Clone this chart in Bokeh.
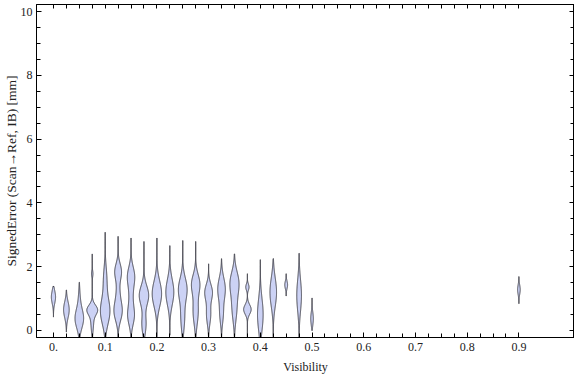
import numpy as np
from bokeh.plotting import figure
from bokeh.models import Range1d, LinearAxis, FixedTicker, CustomLabelingPolicy
from bokeh.embed import file_html
from bokeh.resources import INLINE

# ---- data ----
visibility = [0.0, 0.025, 0.05, 0.075, 0.1, 0.125, 0.15, 0.175, 0.2, 0.225, 0.25,
              0.275, 0.3, 0.325, 0.35, 0.375, 0.4, 0.425, 0.45, 0.475, 0.5, 0.9]
err_min = [0.42, -0.05, -0.30, -0.25, -0.45, -0.25, -0.20, -0.20, -0.20, -0.15, -0.20,
           -0.20, -0.20, -0.20, -0.20, -0.20, -0.25, -0.20, 1.08, -0.35, 0.00, 0.84]
err_max = [1.38, 1.27, 1.51, 2.40, 3.08, 2.95, 2.90, 2.79, 2.90, 2.66, 2.82,
           2.79, 2.09, 2.25, 2.40, 1.78, 2.22, 2.25, 1.78, 2.42, 1.02, 1.69]
# density modes of each violin: centre, spread, relative peak density
mode_center = [[1.05], [0.65], [0.37, 1.0], [0.65, 0.3, 1.78], [0.6, 1.6],
               [0.6, 1.85, 1.2], [0.47, 1.7, 1.1], [1.1, 0.2], [1.15], [1.2],
               [1.3, 0.4], [1.46, 0.6], [1.2, 0.5], [1.3, 0.5], [1.5, 0.7],
               [0.66, 1.36], [0.5], [1.2], [1.43], [1.1], [0.37], [1.28]]
mode_spread = [[0.2], [0.25], [0.3, 0.3], [0.15, 0.3, 0.1], [0.4, 0.4],
               [0.3, 0.25, 0.3], [0.3, 0.3, 0.3], [0.3, 0.3], [0.4], [0.4],
               [0.35, 0.4], [0.3, 0.4], [0.25, 0.3], [0.35, 0.3], [0.35, 0.4],
               [0.15, 0.1], [0.5], [0.45], [0.12], [0.5], [0.2], [0.15]]
mode_density = [[0.45], [0.6], [0.9, 0.15], [1.0, 0.3, 0.15], [1.0, 0.35],
                [0.85, 0.7, 0.3], [0.7, 0.75, 0.3], [1.0, 0.45], [1.0], [0.85],
                [0.9, 0.4], [0.85, 0.55], [0.8, 0.45], [0.8, 0.35], [0.9, 0.5],
                [0.8, 0.35], [0.6], [0.7], [0.3], [0.5], [0.28], [0.28]]

x_ticks = [0.0, 0.1, 0.2, 0.3, 0.4, 0.5, 0.6, 0.7, 0.8, 0.9]
x_tick_labels = ["0.", "0.1", "0.2", "0.3", "0.4", "0.5", "0.6", "0.7", "0.8", "0.9"]
y_ticks = [0, 2, 4, 6, 8, 10]

# ---- build violin outlines ----
half_scale = 0.0091
xs_list, ys_list = [], []
for i, x0 in enumerate(visibility):
    y = np.linspace(err_min[i], err_max[i], 200)
    d = np.zeros_like(y)
    for c, s, a in zip(mode_center[i], mode_spread[i], mode_density[i]):
        d += a * np.exp(-0.5 * ((y - c) / s) ** 2)
    hw = d * half_scale
    xs_list.append(list(np.concatenate([x0 - hw, (x0 + hw)[::-1]])))
    ys_list.append(list(np.concatenate([y, y[::-1]])))

FONT = "Liberation Serif"
TXT = "#222222"

p = figure(frame_width=538, frame_height=333,
           x_range=Range1d(-0.0328, 1.0075), y_range=Range1d(-0.22, 10.22),
           output_backend="svg", toolbar_location=None,
           min_border_left=0, min_border_right=0, min_border_top=4, min_border_bottom=0,
           background_fill_color="white", border_fill_color="white")
p.xgrid.visible = False
p.ygrid.visible = False
p.outline_line_color = "black"

p.patches(xs_list, ys_list, fill_color="#ccd2f5", line_color="#40404a", line_width=1)

minor_x = [round(k * 0.025, 4) for k in range(0, 37)]
minor_y = [k * 0.5 for k in range(0, 21)]
p.xaxis.ticker = FixedTicker(ticks=x_ticks, minor_ticks=minor_x)
p.xaxis.major_label_overrides = {t: l for t, l in zip(x_ticks, x_tick_labels)}
p.xaxis.axis_label = "Visibility"
p.yaxis.ticker = FixedTicker(ticks=y_ticks, minor_ticks=minor_y)
p.yaxis.axis_label = "SignedError (Scan\u2192Ref, IB) [mm]"

for ax in (p.xaxis[0], p.yaxis[0]):
    ax.major_tick_in = 5
    ax.major_tick_out = 0
    ax.minor_tick_in = 4
    ax.minor_tick_out = 0
    ax.axis_line_color = "black"
    ax.major_tick_line_color = "black"
    ax.minor_tick_line_color = "black"
    ax.major_label_text_font = FONT
    ax.major_label_text_font_size = "12px"
    ax.major_label_text_color = TXT
    ax.axis_label_text_font = FONT
    ax.axis_label_text_font_style = "normal"
    ax.axis_label_text_color = TXT

p.xaxis.axis_label_text_font_size = "12px"
p.xaxis.major_label_standoff = 5
p.xaxis.axis_label_standoff = 6
p.yaxis.axis_label_text_font_size = "13.5px"
p.yaxis.major_label_standoff = 4
p.yaxis.axis_label_standoff = -1

hide_all = CustomLabelingPolicy(code="for (const i of indices) { indices.unset(i) } return indices")

top = LinearAxis(ticker=FixedTicker(ticks=minor_x, minor_ticks=[]),
                 major_tick_in=4, major_tick_out=0, minor_tick_in=0, minor_tick_out=0,
                 major_label_text_font_size="0px", major_label_standoff=0,
                 major_label_policy=hide_all,
                 axis_line_color="black", major_tick_line_color="black")
p.add_layout(top, "above")
right = LinearAxis(ticker=FixedTicker(ticks=y_ticks, minor_ticks=minor_y),
                   major_tick_in=5, major_tick_out=0, minor_tick_in=4, minor_tick_out=0,
                   major_label_text_font_size="0px", major_label_standoff=0,
                   major_label_policy=hide_all,
                   axis_line_color="black", major_tick_line_color="black",
                   minor_tick_line_color="black")
p.add_layout(right, "right")

open("out.html", "w").write(file_html(p, INLINE))
